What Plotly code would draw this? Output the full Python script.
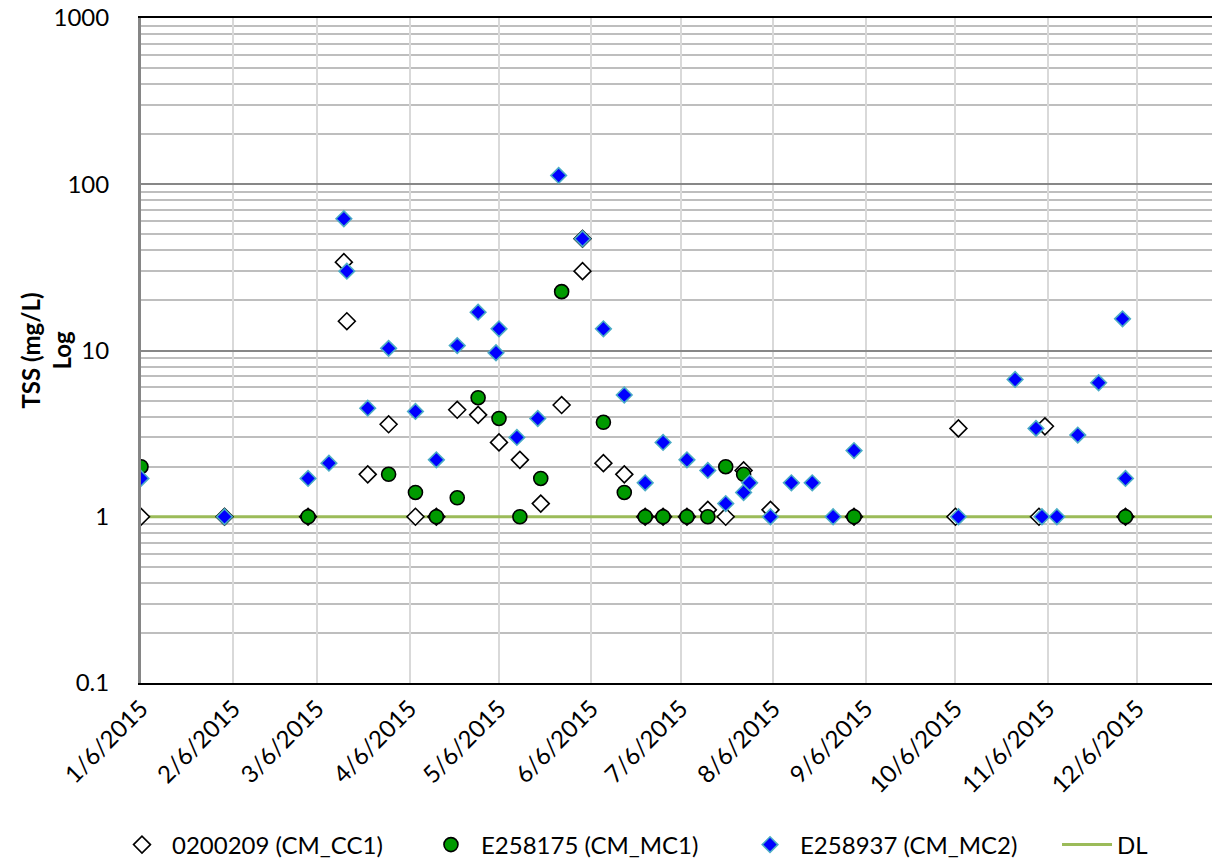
import plotly.graph_objects as go

# --- TSS results, 2015 (mg/L) ---
cc1_dates = [
    "2015-01-06", "2015-02-03", "2015-03-03", "2015-03-15", "2015-03-16",
    "2015-03-23", "2015-03-30", "2015-04-08", "2015-04-15", "2015-04-22",
    "2015-04-29", "2015-05-06", "2015-05-13", "2015-05-20", "2015-05-27",
    "2015-06-03", "2015-06-03", "2015-06-10", "2015-06-17", "2015-06-24",
    "2015-06-30", "2015-07-08", "2015-07-15", "2015-07-21", "2015-07-27",
    "2015-08-05", "2015-09-02", "2015-10-06", "2015-10-07", "2015-11-03",
    "2015-11-05", "2015-12-02",
]
cc1_tss = [
    1, 1, 1, 34, 15,
    1.8, 3.6, 1, 1, 4.4,
    4.1, 2.8, 2.2, 1.2, 4.7,
    47, 30, 2.1, 1.8, 1,
    1, 1, 1.1, 1, 1.9,
    1.1, 1, 1, 3.4, 1,
    3.5, 1,
]

mc1_dates = [
    "2015-01-06", "2015-03-03", "2015-03-30", "2015-04-08", "2015-04-15",
    "2015-04-22", "2015-04-29", "2015-05-06", "2015-05-13", "2015-05-20",
    "2015-05-27", "2015-06-10", "2015-06-17", "2015-06-24", "2015-06-30",
    "2015-07-08", "2015-07-15", "2015-07-21", "2015-07-27", "2015-09-02",
    "2015-12-02",
]
mc1_tss = [
    2.0, 1, 1.8, 1.4, 1,
    1.3, 5.2, 3.9, 1, 1.7,
    22.6, 3.7, 1.4, 1, 1,
    1, 1, 2.0, 1.8, 1,
    1,
]

mc2_dates = [
    "2015-01-06", "2015-02-03", "2015-03-03", "2015-03-10", "2015-03-15",
    "2015-03-16", "2015-03-23", "2015-03-30", "2015-04-08", "2015-04-15",
    "2015-04-22", "2015-04-29", "2015-05-05", "2015-05-06", "2015-05-12",
    "2015-05-19", "2015-05-26", "2015-06-03", "2015-06-10", "2015-06-17",
    "2015-06-24", "2015-06-30", "2015-07-08", "2015-07-15", "2015-07-21",
    "2015-07-27", "2015-07-29", "2015-08-05", "2015-08-12", "2015-08-19",
    "2015-08-26", "2015-09-02", "2015-10-07", "2015-10-26", "2015-11-02",
    "2015-11-04", "2015-11-09", "2015-11-16", "2015-11-23", "2015-12-01",
    "2015-12-02",
]
mc2_tss = [
    1.7, 1, 1.7, 2.1, 62,
    30, 4.5, 10.3, 4.3, 2.2,
    10.7, 17, 9.7, 13.5, 3.0,
    3.9, 113, 47, 13.5, 5.4,
    1.6, 2.8, 2.2, 1.9, 1.2,
    1.4, 1.6, 1, 1.6, 1.6,
    1, 2.5, 1, 6.7, 3.4,
    1, 1, 3.1, 6.4, 15.5,
    1.7,
]

# detection limit
dl_dates = ["2015-01-06", "2015-12-31"]
dl_value = [1, 1]

x_range = ["2015-01-06", "2015-12-31"]
month_ticks = [f"2015-{m:02d}-06" for m in range(1, 13)]

FONT = "Lato"
FS = 24

fig = go.Figure()

fig.add_trace(go.Scatter(
    x=dl_dates, y=dl_value, mode="lines", name="DL",
    line=dict(color="#9BBB59", width=3), legend="legend4",
))
fig.add_trace(go.Scatter(
    x=cc1_dates, y=cc1_tss, mode="markers", name="0200209 (CM_CC1)",
    marker=dict(symbol="diamond", size=13, color="white",
                line=dict(color="black", width=1.6)),
    legend="legend",
))
fig.add_trace(go.Scatter(
    x=mc1_dates, y=mc1_tss, mode="markers", name="E258175 (CM_MC1)",
    marker=dict(symbol="circle", size=14, color="#009A00",
                line=dict(color="black", width=1.6)),
    legend="legend2",
))
fig.add_trace(go.Scatter(
    x=mc2_dates, y=mc2_tss, mode="markers", name="E258937 (CM_MC2)",
    marker=dict(symbol="diamond", size=12, color="#0000FF",
                line=dict(color="#4BACC6", width=1.6)),
    legend="legend3",
))

minor_vals = [m * 10 ** e for e in range(-1, 3) for m in range(2, 10)]


def legend_box(x):
    return dict(
        orientation="h", x=x, xanchor="left", y=-0.2436, yanchor="middle",
        font=dict(family=FONT, size=FS, color="black"),
        itemwidth=50, bgcolor="rgba(0,0,0,0)", borderwidth=0,
    )


fig.update_layout(
    width=1212, height=861,
    margin=dict(l=141, r=0, t=18, b=178, autoexpand=False),
    paper_bgcolor="white", plot_bgcolor="white",
    font=dict(family=FONT, size=FS, color="black"),
    showlegend=True,
    legend=legend_box(-0.0271),
    legend2=legend_box(0.2614),
    legend3=legend_box(0.5593),
    legend4=legend_box(0.8553),
    xaxis=dict(
        type="date", range=x_range, automargin=False,
        tickvals=month_ticks, tickformat="%-m/%-d/%Y", tickangle=-45,
        showgrid=True, gridcolor="#D9D9D9", gridwidth=2,
        showline=True, linecolor="black", linewidth=2, mirror=True,
        ticks="", zeroline=False,
        tickfont=dict(family=FONT, size=FS, color="black"),
    ),
    yaxis=dict(
        type="log", range=[-1, 3], dtick=1, automargin=False,
        showgrid=True, gridcolor="#878787", gridwidth=2,
        minor=dict(tickvals=minor_vals, showgrid=True,
                   gridcolor="#BEBEBE", gridwidth=2, ticks=""),
        showline=True, linecolor="#868686", linewidth=3,
        ticks="", ticklen=0, zeroline=False,
        ticklabelstandoff=24,
        tickfont=dict(family=FONT, size=FS, color="black"),
    ),
    annotations=[dict(
        text="<b>TSS (mg/L)</b><br><b>Log</b>",
        xref="paper", yref="paper", x=0, y=0.5,
        xanchor="center", yanchor="middle", xshift=-96,
        textangle=-90, showarrow=False,
        font=dict(family=FONT, size=FS, color="black"),
    )],
)

fig.write_html("out.html")
